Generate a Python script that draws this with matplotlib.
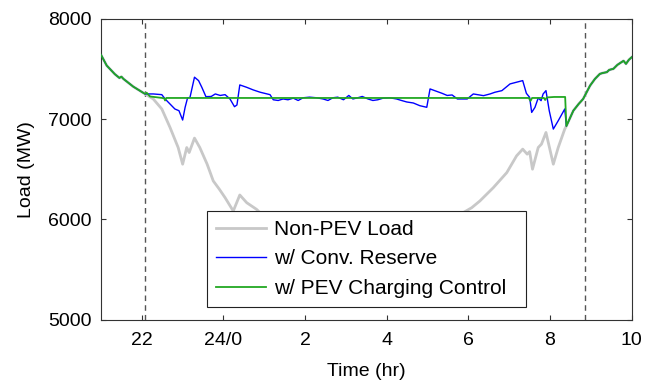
import matplotlib
matplotlib.use("Agg")
import matplotlib.pyplot as plt

plt.rcParams['font.family'] = ['Liberation Sans', 'DejaVu Sans']

# ---- data (time in hours, 24/0 = 24, 10 = 34) ----
start_t = [21.0, 21.14, 21.34, 21.45, 21.5, 21.55, 21.79, 22.08]
start_v = [7640, 7533, 7447, 7410, 7422, 7400, 7323, 7250]

tail_t = [32.40, 32.57, 32.70, 32.81, 32.98, 33.10, 33.22, 33.30, 33.39, 33.45,
          33.55, 33.65, 33.75, 33.80, 33.86, 33.93, 34.0]
tail_v = [6930, 7083, 7150, 7200, 7333, 7400, 7450, 7460, 7467, 7490,
          7500, 7540, 7567, 7580, 7550, 7590, 7616]

nonpev_mid_t = [22.28, 22.49, 22.69, 22.89, 23.0, 23.1, 23.16, 23.29, 23.42, 23.6,
                23.75, 23.9, 24.04, 24.24, 24.4, 24.57, 24.81, 25.2, 25.6, 26.0,
                26.5, 27.0, 27.5, 28.0, 28.5, 29.0, 29.5, 29.8, 30.08, 30.28,
                30.61, 30.94, 31.18, 31.33, 31.44, 31.5, 31.57, 31.71, 31.79, 31.9,
                32.08, 32.2, 32.36]
nonpev_mid_v = [7200, 7100, 6917, 6716, 6550, 6716, 6666, 6810, 6716, 6550,
                6383, 6300, 6216, 6083, 6243, 6166, 6100, 5950, 5800, 5700,
                5620, 5580, 5600, 5680, 5800, 5900, 6000, 6050, 6116, 6183,
                6316, 6466, 6633, 6700, 6650, 6675, 6500, 6716, 6750, 6866,
                6550, 6716, 6900]

conv_mid_t = [22.28, 22.49, 22.57, 22.69, 22.81, 22.91, 23.0, 23.06, 23.12, 23.18,
              23.29, 23.39, 23.47, 23.57, 23.7, 23.8, 23.92, 24.04, 24.16, 24.27,
              24.33, 24.4, 24.57, 24.73, 24.9, 25.02, 25.14, 25.22, 25.34, 25.46,
              25.58, 25.71, 25.83, 25.95, 26.11, 26.28, 26.44, 26.56, 26.68, 26.8,
              26.94, 27.07, 27.17, 27.29, 27.4, 27.54, 27.66, 27.78, 27.91, 28.07,
              28.24, 28.36, 28.49, 28.65, 28.81, 28.98, 29.06, 29.35, 29.48, 29.6,
              29.73, 29.97, 30.12, 30.37, 30.53, 30.65, 30.82, 31.02, 31.18, 31.33,
              31.42, 31.5, 31.55, 31.63, 31.71, 31.78, 31.83, 31.9, 31.98, 32.08,
              32.2, 32.36]
conv_mid_v = [7250, 7243, 7200, 7150, 7100, 7083, 6990, 7116, 7210, 7216,
              7417, 7383, 7316, 7223, 7225, 7250, 7235, 7243, 7200, 7123,
              7140, 7340, 7316, 7290, 7267, 7255, 7243, 7192, 7185, 7200,
              7192, 7208, 7185, 7212, 7218, 7212, 7200, 7185, 7212, 7218,
              7192, 7235, 7200, 7212, 7225, 7200, 7185, 7192, 7208, 7212,
              7200, 7185, 7170, 7160, 7133, 7117, 7300, 7257, 7235, 7240,
              7200, 7200, 7250, 7233, 7250, 7267, 7283, 7350, 7367, 7383,
              7256, 7216, 7066, 7116, 7210, 7183, 7250, 7283, 7083, 6900,
              6983, 7100]

pev_mid_t = [22.12, 22.2, 22.36, 22.5, 22.55, 22.57, 22.6, 31.48, 31.52, 31.56,
             31.85, 31.88, 31.92, 32.1, 32.37]
pev_mid_v = [7262, 7225, 7217, 7210, 7205, 7185, 7210, 7210, 7180, 7210,
             7210, 7190, 7215, 7220, 7220]

nonpev_t = start_t + nonpev_mid_t + tail_t
nonpev_v = start_v + nonpev_mid_v + tail_v
conv_t = start_t + conv_mid_t + tail_t
conv_v = start_v + conv_mid_v + tail_v
pev_t = start_t + pev_mid_t + tail_t
pev_v = start_v + pev_mid_v + tail_v

window = [22.08, 32.85]
xticks = [22, 24, 26, 28, 30, 32, 34]
xticklabels = ['22', '24/0', '2', '4', '6', '8', '10']
yticks = [5000, 6000, 7000, 8000]

# ---- figure ----
fig = plt.figure(figsize=(6.46, 3.84), dpi=100)
ax = fig.add_axes([101/646, 1 - 319.7/384, 530.7/646, 301/384])

for w in window:
    ax.axvline(w, color='#555555', lw=1.0, ls=(0, (4, 3)), zorder=1)

ax.plot(nonpev_t, nonpev_v, color='#c8c8c8', lw=2.0, label='Non-PEV Load', zorder=2)
ax.plot(conv_t, conv_v, color='#0000ff', lw=1.0, label='w/ Conv. Reserve', zorder=3)
ax.plot(pev_t, pev_v, color='#22a822', lw=1.3, label='w/ PEV Charging Control', zorder=4)

ax.set_xlim(21, 34)
ax.set_ylim(5000, 8000)
ax.set_xticks(xticks)
ax.set_xticklabels(xticklabels)
ax.set_yticks(yticks)

ax.tick_params(direction='in', length=3.6, width=0.8, color='#333333',
               top=True, right=True, labelsize=14, pad=7)
ax.tick_params(axis='x', pad=9)
for s in ax.spines.values():
    s.set_color('#333333')
    s.set_linewidth(0.8)

ax.set_xlabel('Time (hr)', fontsize=14)
ax.set_ylabel('Load (MW)', fontsize=14)
ax.xaxis.set_label_coords(0.5, -0.145)
ax.yaxis.set_label_coords(-0.125, 0.5)

leg = ax.legend(loc='lower left', bbox_to_anchor=(0.199, 0.043, 0.602, 0.3),
                mode='expand', fontsize=15,
                frameon=True, fancybox=False, handlelength=2.4, handletextpad=0.4,
                labelspacing=0.5, borderpad=0.43, borderaxespad=0)
leg.get_frame().set_edgecolor('#222222')
leg.get_frame().set_linewidth(0.8)
leg.get_frame().set_alpha(1)

fig.savefig('out.png', dpi=100)
